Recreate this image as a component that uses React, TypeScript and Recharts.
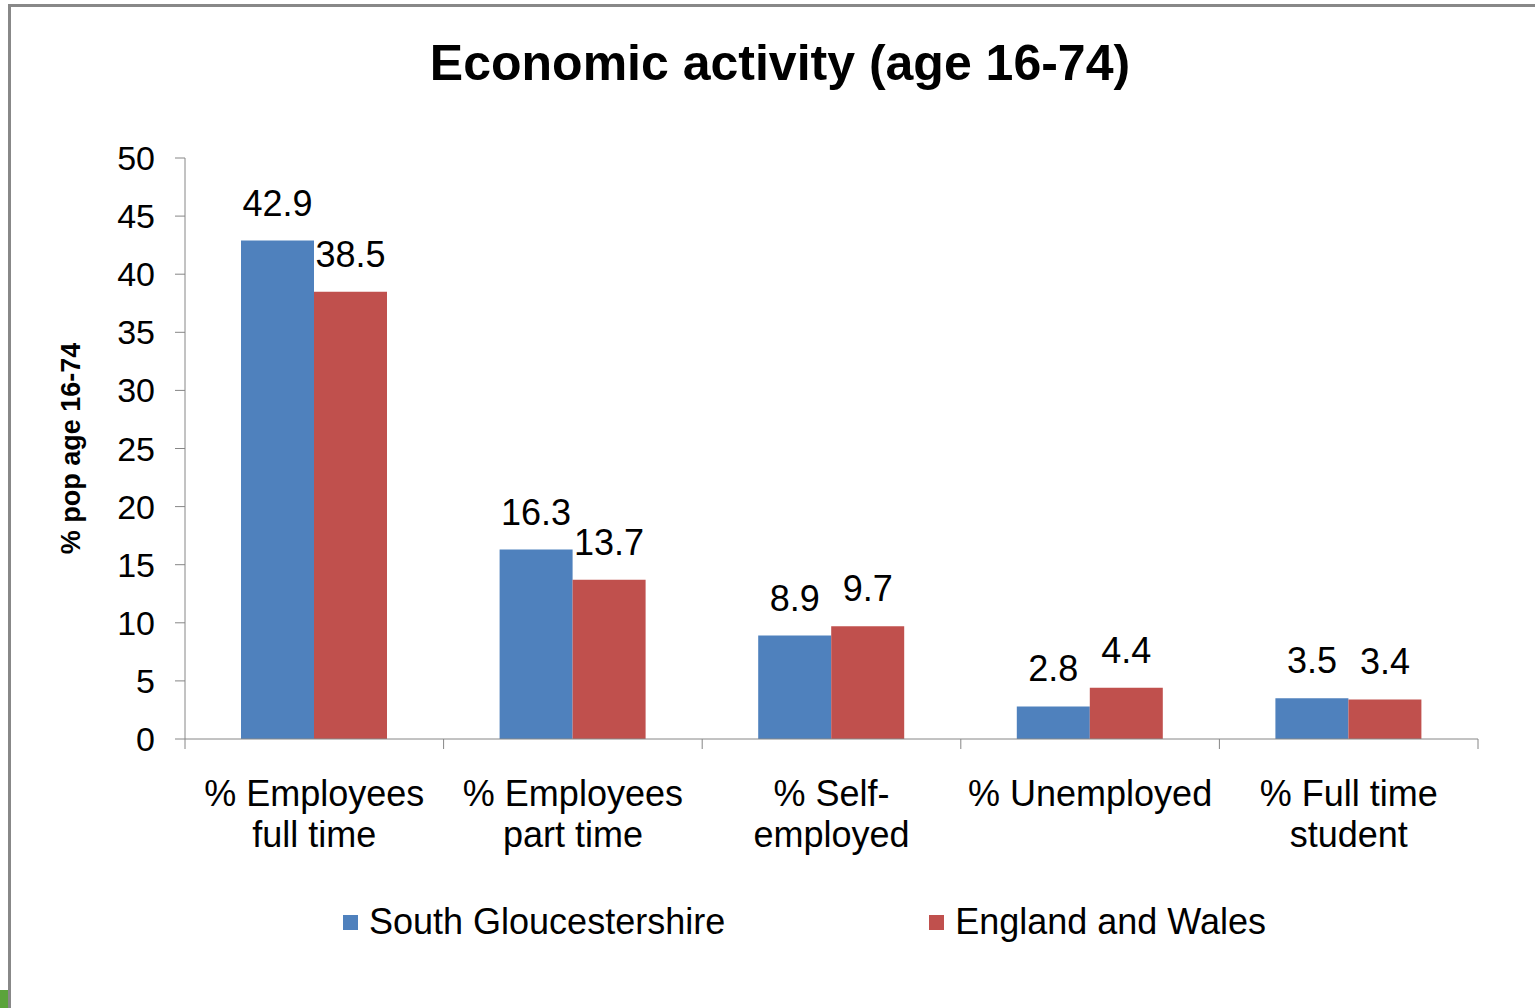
import { BarChart, Bar, XAxis, YAxis, LabelList, Legend } from "recharts";

const categories = [
  "% Employees\nfull time",
  "% Employees\npart time",
  "% Self-\nemployed",
  "% Unemployed",
  "% Full time\nstudent",
];
const southGlos = [42.9, 16.3, 8.9, 2.8, 3.5];
const englandWales = [38.5, 13.7, 9.7, 4.4, 3.4];
const yTicks = [0, 5, 10, 15, 20, 25, 30, 35, 40, 45, 50];
const seriesOrder = ["south", "england"];

const FONT = "'Liberation Sans', Arial, sans-serif";
const AXIS = "#868686";
const BORDER = "#888888";
const BLUE = "#4F81BD";
const RED = "#C0504D";

const data = categories.map((c, i) => ({
  category: c,
  south: southGlos[i],
  england: englandWales[i],
}));

const CategoryTick = ({ x, y, payload, index }: any) => {
  const lines = String(payload.value).split("\n");
  const half = payload.offset || 0;
  return (
    <g>
      <line x1={x - half} x2={x - half} y1={y - 10} y2={y} stroke={AXIS} />
      {index === categories.length - 1 && (
        <line x1={x + half} x2={x + half} y1={y - 10} y2={y} stroke={AXIS} />
      )}
      <text x={x} y={y + 57} textAnchor="middle" fontSize={36} fill="#000" fontFamily={FONT}>
        {lines.map((l, i) => (
          <tspan key={i} x={x} dy={i === 0 ? 0 : 41}>
            {l}
          </tspan>
        ))}
      </text>
    </g>
  );
};

const YLabel = ({ viewBox }: any) => {
  const cx = viewBox.x + 63;
  const cy = viewBox.y + viewBox.height / 2;
  return (
    <text
      x={cx}
      y={cy}
      transform={`rotate(-90 ${cx} ${cy})`}
      textAnchor="middle"
      dominantBaseline="central"
      fontSize={27}
      fontWeight="bold"
      fontFamily={FONT}
      fill="#000"
    >
      % pop age 16-74
    </text>
  );
};

const LegendContent = ({ payload }: any) => {
  const items = [...(payload || [])].sort(
    (a: any, b: any) => seriesOrder.indexOf(a.dataKey) - seriesOrder.indexOf(b.dataKey)
  );
  return (
    <div
      style={{
        display: "flex",
        alignItems: "center",
        height: 40,
        paddingLeft: 335,
        fontFamily: FONT,
        fontSize: 36,
        color: "#000",
      }}
    >
      {items.map((p: any, i: number) => (
        <div key={i} style={{ display: "flex", alignItems: "center", marginLeft: i ? 204 : 0 }}>
          <span style={{ width: 15, height: 15, background: p.color, marginRight: 11, display: "inline-block" }} />
          {p.value}
        </div>
      ))}
    </div>
  );
};

export default function App() {
  return (
    <div style={{ position: "absolute", top: 0, left: 0, width: 1535, height: 1008, overflow: "hidden", fontFamily: FONT }}>
      <div style={{ position: "absolute", top: 4, left: 8, width: 1527, height: 3, background: BORDER }} />
      <div style={{ position: "absolute", top: 4, left: 8, width: 3, height: 1004, background: BORDER }} />
      <div style={{ position: "absolute", top: 990, left: 0, width: 8, height: 18, background: "#5BA33B" }} />
      <div
        style={{
          position: "absolute",
          top: 38,
          left: 280,
          width: 1000,
          textAlign: "center",
          fontSize: 50,
          lineHeight: "50px",
          fontWeight: "bold",
          color: "#000",
        }}
      >
        Economic activity (age 16-74)
      </div>
      <div style={{ position: "absolute", top: 4, left: 8 }}>
        <BarChart
          width={1527}
          height={996}
          data={data}
          margin={{ top: 154, right: 57, left: 0, bottom: 58 }}
          barCategoryGap={56}
          barGap={0}
        >
          <XAxis
            dataKey="category"
            height={163}
            stroke={AXIS}
            tickLine={false}
            tickSize={10}
            tickMargin={0}
            interval={0}
            tick={<CategoryTick />}
          />
          <YAxis
            width={177}
            domain={[0, 50]}
            ticks={yTicks}
            stroke={AXIS}
            tickSize={10}
            tickMargin={20}
            tick={{ fontSize: 34, fill: "#000", fontFamily: FONT }}
            label={<YLabel />}
          />
          <Legend verticalAlign="bottom" content={<LegendContent />} />
          <Bar dataKey="south" name="South Gloucestershire" fill={BLUE} isAnimationActive={false}>
            <LabelList dataKey="south" position="top" offset={25} fontSize={36} fill="#000" fontFamily={FONT} />
          </Bar>
          <Bar dataKey="england" name="England and Wales" fill={RED} isAnimationActive={false}>
            <LabelList dataKey="england" position="top" offset={25} fontSize={36} fill="#000" fontFamily={FONT} />
          </Bar>
        </BarChart>
      </div>
    </div>
  );
}
